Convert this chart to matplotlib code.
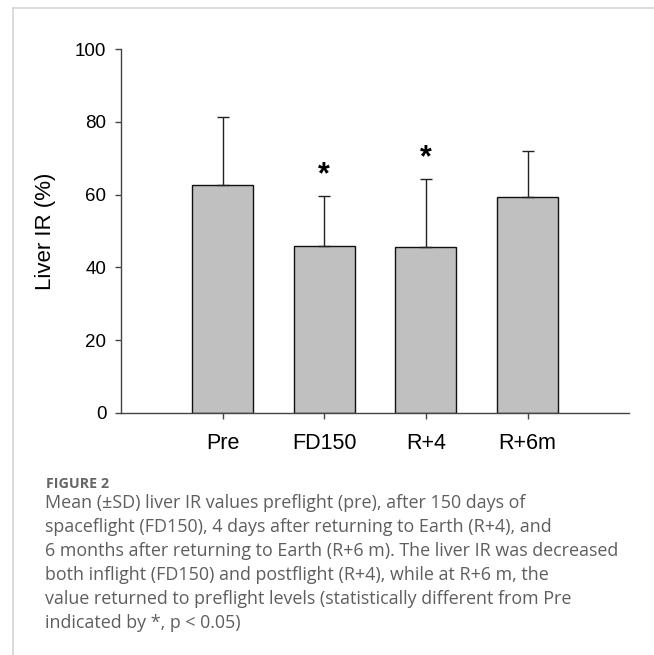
import matplotlib.pyplot as plt
from matplotlib.lines import Line2D

groups = ['Pre', 'FD150', 'R+4', 'R+6m']
means = [62.7, 45.9, 45.5, 59.3]
sds = [18.6, 13.6, 18.8, 12.7]
significant = [False, True, True, False]

caption_title = 'FIGURE 2'
caption_lines = [
    'Mean (\u00b1SD) liver IR values preflight (pre), after 150 days of',
    'spaceflight (FD150), 4 days after returning to Earth (R+4), and',
    '6 months after returning to Earth (R+6 m). The liver IR was decreased',
    'both inflight (FD150) and postflight (R+4), while at R+6 m, the',
    'value returned to preflight levels (statistically different from Pre',
    'indicated by *, p < 0.05)',
]

fig = plt.figure(figsize=(6.54, 6.55), dpi=100)
ax = fig.add_axes([0.185, 0.3695, 0.777, 0.5555])

x = range(len(groups))
ax.bar(x, means, width=0.6, color='#c0c0c0', edgecolor='#111111', linewidth=1.0,
       yerr=[[0] * len(sds), sds], capsize=4,
       error_kw=dict(ecolor='#222222', elinewidth=1.0, capthick=1.0))

for i, (m, s, sig) in enumerate(zip(means, sds, significant)):
    if sig:
        ax.text(i, m + s + 5.7, '*', ha='center', va='center', fontsize=22,
                fontweight='bold', family='Liberation Sans')

ax.set_xlim(-1.0, 4.0)
ax.set_ylim(0, 100)
ax.set_yticks([0, 20, 40, 60, 80, 100])
ax.set_xticks(list(x))
ax.set_xticklabels(groups)
for sp in ['top', 'right']:
    ax.spines[sp].set_visible(False)
for sp in ['left', 'bottom']:
    ax.spines[sp].set_color('#444444')
    ax.spines[sp].set_linewidth(1.0)
ax.tick_params(axis='y', length=4, width=1, color='#444444', pad=6.5,
               labelsize=13.5)
ax.tick_params(axis='x', length=4, width=1, color='#444444', pad=10.5,
               labelsize=15.5)
for lab in ax.get_xticklabels() + ax.get_yticklabels():
    lab.set_family('Liberation Sans')
ax.set_ylabel('Liver IR (%)', fontsize=16, family='Liberation Sans', labelpad=14)

# caption
fig.text(46 / 654, 1 - 484 / 655, caption_title, fontsize=10.3, fontweight='bold',
         color='#666666', family='Open Sans', va='center', ha='left')
for k, line in enumerate(caption_lines):
    fig.text(45 / 654, 1 - (503 + 23.9 * k) / 655, line, fontsize=12.9,
             color='#5e5e5e', family='Open Sans', va='center', ha='left')

# page border lines
fig.add_artist(Line2D([13 / 654, 1], [1 - 8 / 655, 1 - 8 / 655],
                      transform=fig.transFigure, color='#d4d4d4', lw=1.2))
fig.add_artist(Line2D([13 / 654, 13 / 654], [0, 1 - 8 / 655],
                      transform=fig.transFigure, color='#d4d4d4', lw=1.2))

fig.savefig('out.png', dpi=100)
